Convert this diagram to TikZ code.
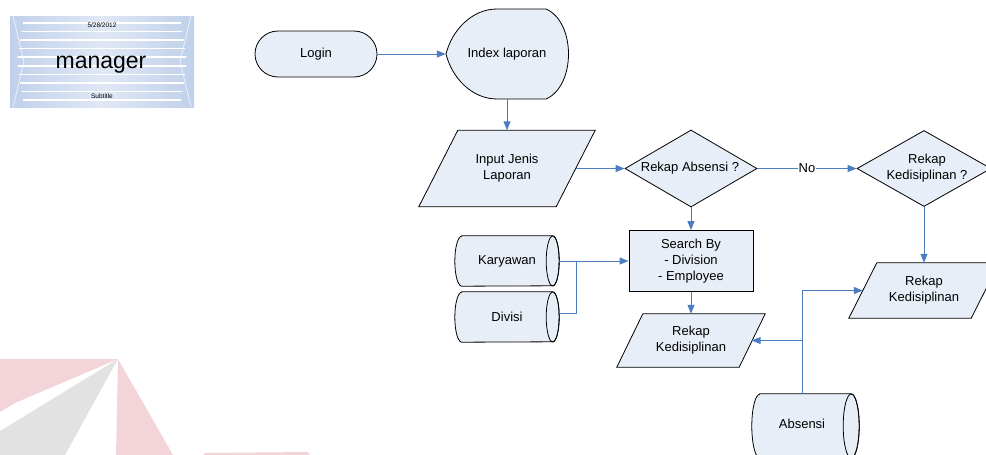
\documentclass[tikz,border=0pt]{standalone}
\usepackage{fontspec}
\setmainfont{Liberation Sans}
\usetikzlibrary{shapes.geometric,arrows.meta}
\pgfdeclarelayer{background}
\pgfsetlayers{background,main}
\definecolor{boxfill}{RGB}{232,238,247}
\definecolor{connblue}{RGB}{74,126,193}
\definecolor{wmpink}{RGB}{243,213,217}
\definecolor{wmgray}{RGB}{226,226,226}
\definecolor{slideA}{RGB}{192,208,235}
\definecolor{slideB}{RGB}{224,232,245}
\newcommand\mydrum[4]{%
  \path[outline] ([xshift=#2]#1.north west) -- ([xshift=-#4]#1.north east)
    arc[start angle=90,end angle=-90,x radius=#4,y radius=#3]
    -- ([xshift=#2]#1.south west)
    arc[start angle=270,end angle=90,x radius=#2,y radius=#3] -- cycle;
  \draw[line width=0.8pt] ([xshift=-#4]#1.east) ellipse[x radius=#4,y radius=#3];}
\begin{document}
\begin{tikzpicture}[x=1pt,y=-1pt,
  txt/.style={font=\fontsize{13}{16}\selectfont, align=center, inner sep=0pt},
  outline/.style={draw=black, line width=0.8pt, fill=boxfill},
  conn/.style={draw=connblue, line width=1pt, -{Triangle[length=9pt,width=7pt]}},
  wire/.style={draw=connblue, line width=1pt},
  slidetxt/.style={inner sep=0pt, anchor=base}]
\useasboundingbox (0,0) rectangle (986,455);

% watermark
\fill[wmpink] (0,359) -- (118,359) -- (15,403) -- (0,412) -- cycle;
\fill[wmgray] (118,359) -- (0,431) -- (0,455) -- (65,455) -- cycle;
\fill[wmpink] (118,359) -- (116,455) -- (173,455) -- cycle;
\fill[wmpink] (205,453) -- (308,452) -- (310,455) -- (203,455) -- cycle;

% title slide
\shade[left color=slideA, right color=slideA, middle color=slideB] (10,16) rectangle (194,107);
\begin{scope}
  \clip (24,16) -- (180,16) -- (187,61.5) -- (180,107) -- (24,107) -- (17,61.5) -- cycle;
  \foreach \yy in {23,31.5,40,48.5,57,66,74.5,83,91.5,100}
    \draw[white, line width=1.6pt] (10,\yy) -- (194,\yy);
\end{scope}
\draw[white, opacity=0.7, line width=0.8pt] (13,16) -- (24,61.5) -- (13,107);
\draw[white, opacity=0.7, line width=0.8pt] (191,16) -- (180,61.5) -- (191,107);
\node[slidetxt, font=\fontsize{6.5}{7}\selectfont] (date) at (102,27.5) {5/28/2012};
\node[slidetxt, font=\fontsize{23}{26}\selectfont] (mgr) at (101,68.5) {manager};
\node[slidetxt, font=\fontsize{6.5}{7}\selectfont] (sub) at (102,98.5) {Subtitle};

% nodes
\node[txt, draw=black, line width=0.8pt, fill=boxfill, rounded corners=23pt,
      minimum width=122pt, minimum height=46pt] (login) at (316,54) {Login};
\node[txt, minimum width=122pt, minimum height=90pt] (idx) at (507,54) {Index laporan};
\node[txt, minimum width=176pt, minimum height=76pt] (inp) at (507,168.5) {Input Jenis\\Laporan};
\node[diamond, outline, minimum width=132pt, minimum height=77pt, inner sep=0pt] (d1) at (691,168.5) {};
\node[txt] (d1t) at (690,168.5) {Rekap Absensi ?};
\node[diamond, outline, minimum width=134pt, minimum height=76pt, inner sep=0pt] (d2) at (924,168.5) {};
\node[txt] (d2t) at (927,168.5) {Rekap\\Kedisiplinan ?};
\node[txt, outline, minimum width=124pt, minimum height=61pt] (search) at (691,261) {Search By\\- Division\\- Employee};
\node[txt, minimum width=148pt, minimum height=53pt] (rk1) at (691,340.5) {Rekap\\Kedisiplinan};
\node[txt, minimum width=150pt, minimum height=55pt] (rk2) at (924,290.5) {Rekap\\Kedisiplinan};
\node[txt, minimum width=104pt, minimum height=50pt] (kar) at (507,261) {Karyawan};
\node[txt, minimum width=104pt, minimum height=50pt] (div) at (507,317) {Divisi};
\node[minimum width=107pt, minimum height=64pt, inner sep=0pt] (abs) at (805.5,426) {};
\node[txt] (abst) at (802,424) {Absensi};

% outlines on background
\begin{pgfonlayer}{background}
  \path[outline] (446,54) .. controls (452,30) and (472,9) .. (497,9) -- (546,9)
     .. controls (576,22) and (576,86) .. (546,99) -- (497,99)
     .. controls (472,99) and (452,78) .. (446,54) -- cycle;
  \path[outline] ([xshift=39pt]inp.north west) -- (inp.north east)
     -- ([xshift=-39pt]inp.south east) -- (inp.south west) -- cycle;
  \path[outline] ([xshift=26pt]rk1.north west) -- (rk1.north east)
     -- ([xshift=-26pt]rk1.south east) -- (rk1.south west) -- cycle;
  \path[outline] ([xshift=28pt]rk2.north west) -- (rk2.north east)
     -- ([xshift=-28pt]rk2.south east) -- (rk2.south west) -- cycle;
  \mydrum{kar}{7pt}{25pt}{6.5pt}
  \mydrum{div}{7pt}{25pt}{6.5pt}
  \mydrum{abs}{8pt}{32pt}{8pt}
\end{pgfonlayer}

% connectors
\draw[conn] (login.east) -- (idx.west);
\draw[conn] (idx.south) -- (inp.north);
\draw[conn] ([xshift=-19.5pt]inp.east) -- (d1.west);
\draw[conn] (d1.east) -- (d2.west);
\node[txt, fill=white, inner sep=0.5pt] (no) at (807,168.5) {No};
\draw[conn] (d2.south) -- (rk2.north);
\draw[conn] (d1.south) -- (search.north);
\draw[conn] (search.south) -- (rk1.north);
\coordinate (jn) at (576,261);
\draw[conn] (kar.east) -- (search.west);
\draw[wire] ([yshift=4pt]div.east) -| (jn);
\draw[conn] (abst |- abs.north) |- ([xshift=14pt]rk2.west);
\draw[conn] (abst |- rk1.east) -- ([xshift=-13.5pt]rk1.east);
\end{tikzpicture}
\end{document}
